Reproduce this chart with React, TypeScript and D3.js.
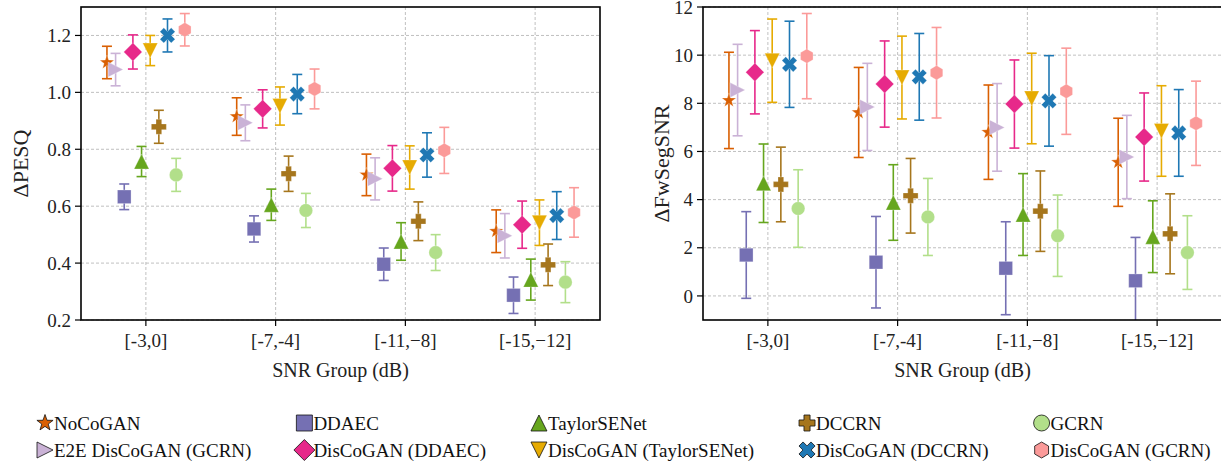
import React, { useEffect, useRef } from 'react';
import * as d3 from 'd3';

const categories = ['[-3,0]', '[-7,-4]', '[-11,\u22128]', '[-15,\u221212]'];

const seriesNames = [
  'NoCoGAN',
  'E2E DisCoGAN (GCRN)',
  'DDAEC',
  'DisCoGAN (DDAEC)',
  'TaylorSENet',
  'DisCoGAN (TaylorSENet)',
  'DCCRN',
  'DisCoGAN (DCCRN)',
  'GCRN',
  'DisCoGAN (GCRN)',
];
const seriesColors = [
  '#d95f02', '#cab2d6', '#7570b3', '#e7298a', '#66a61e',
  '#e6ab02', '#a6761d', '#1f78b4', '#b2df8a', '#fb9a99',
];
const seriesMarkers = [
  'star', 'triangle-right', 'square', 'diamond', 'triangle-up',
  'triangle-down', 'plus', 'x', 'circle', 'hexagon',
];
// legend rows (matplotlib ncol=5 fills column by column)
const legendRows = [[0, 2, 4, 6, 8], [1, 3, 5, 7, 9]];

// ΔPESQ per series, one value per SNR group
const pesqMean = [
  [1.105, 0.915, 0.71, 0.512],
  [1.08, 0.893, 0.696, 0.496],
  [0.633, 0.52, 0.396, 0.287],
  [1.142, 0.942, 0.733, 0.535],
  [0.757, 0.605, 0.476, 0.342],
  [1.147, 0.952, 0.736, 0.542],
  [0.879, 0.714, 0.547, 0.394],
  [1.2, 0.994, 0.78, 0.567],
  [0.71, 0.585, 0.437, 0.333],
  [1.22, 1.012, 0.796, 0.578],
];
const pesqErr = [
  [0.057, 0.066, 0.073, 0.075],
  [0.057, 0.063, 0.074, 0.078],
  [0.045, 0.046, 0.057, 0.064],
  [0.06, 0.067, 0.08, 0.083],
  [0.053, 0.055, 0.066, 0.072],
  [0.053, 0.067, 0.076, 0.08],
  [0.058, 0.062, 0.068, 0.073],
  [0.058, 0.069, 0.078, 0.084],
  [0.058, 0.06, 0.063, 0.072],
  [0.057, 0.07, 0.081, 0.087],
];

// ΔFwSegSNR per series
const fwMean = [
  [8.12, 7.62, 6.8, 5.55],
  [8.55, 7.85, 7.0, 5.77],
  [1.7, 1.4, 1.15, 0.63],
  [9.29, 8.8, 7.97, 6.6],
  [4.68, 3.88, 3.38, 2.46],
  [9.77, 9.07, 8.2, 6.85],
  [4.63, 4.16, 3.52, 2.58],
  [9.62, 9.1, 8.1, 6.77],
  [3.63, 3.28, 2.5, 1.8],
  [9.96, 9.27, 8.5, 7.17],
];
const fwErr = [
  [2.0, 1.87, 1.96, 1.83],
  [1.9, 1.81, 1.82, 1.73],
  [1.8, 1.9, 1.93, 1.8],
  [1.73, 1.79, 1.83, 1.83],
  [1.63, 1.57, 1.7, 1.49],
  [1.73, 1.72, 1.88, 1.88],
  [1.55, 1.55, 1.67, 1.66],
  [1.79, 1.8, 1.88, 1.8],
  [1.61, 1.6, 1.69, 1.53],
  [1.77, 1.88, 1.79, 1.75],
];

const pesqTicks = [0.2, 0.4, 0.6, 0.8, 1.0, 1.2];
const fwTicks = [0, 2, 4, 6, 8, 10, 12];

const FONT = 'Liberation Serif, Times New Roman, serif';

function markerPath(kind: string, r: number): string {
  const poly = (pts: number[][]) =>
    'M' + pts.map(p => p[0].toFixed(2) + ',' + p[1].toFixed(2)).join('L') + 'Z';
  const rot = (pts: number[][], a: number) =>
    pts.map(([x, y]) => [x * Math.cos(a) - y * Math.sin(a), x * Math.sin(a) + y * Math.cos(a)]);
  const plus = (w: number) => [
    [-w, -r], [w, -r], [w, -w], [r, -w], [r, w], [w, w],
    [w, r], [-w, r], [-w, w], [-r, w], [-r, -w], [-w, -w],
  ];
  switch (kind) {
    case 'star':
      return poly(d3.range(10).map(i => {
        const rad = i % 2 ? r * 0.4 : r;
        const a = -Math.PI / 2 + (i * Math.PI) / 5;
        return [rad * Math.cos(a), rad * Math.sin(a)];
      }));
    case 'triangle-up':
      return poly([[0, -r], [r, r], [-r, r]]);
    case 'triangle-down':
      return poly([[0, r], [r, -r], [-r, -r]]);
    case 'triangle-right':
      return poly([[r, 0], [-r, r], [-r, -r]]);
    case 'square':
      return poly([[-r, -r], [r, -r], [r, r], [-r, r]]);
    case 'diamond':
      return poly([[0, -r], [r, 0], [0, r], [-r, 0]]);
    case 'plus':
      return poly(plus(r * 0.38));
    case 'x':
      return poly(rot(plus(r * 0.34), Math.PI / 4));
    case 'hexagon':
      return poly(d3.range(6).map(i => {
        const a = -Math.PI / 2 + (i * Math.PI) / 3;
        return [r * Math.cos(a), r * Math.sin(a)];
      }));
    default:
      return `M${-r},0A${r},${r} 0 1,0 ${r},0A${r},${r} 0 1,0 ${-r},0Z`;
  }
}

const plotSize: Record<string, number> = {
  star: 7.5, 'triangle-right': 7.5, square: 6.8, diamond: 9.2, 'triangle-up': 7.5,
  'triangle-down': 7.5, plus: 7.5, x: 8, circle: 6.8, hexagon: 7.2,
};
const legendSize: Record<string, number> = {
  star: 8.5, 'triangle-right': 8, square: 8, diamond: 10.5, 'triangle-up': 8,
  'triangle-down': 8, plus: 8, x: 8.5, circle: 8, hexagon: 8,
};

function drawPanel(svg: any, cfg: any) {
  const { left, right, top, bottom, domain, ticks, fmt, means, errs, label, labelX, id } = cfg;
  const x = d3.scaleLinear().domain([-0.5, categories.length - 0.5]).range([left, right]);
  const y = d3.scaleLinear().domain(domain).range([bottom, top]);
  const g = svg.append('g');

  svg.append('clipPath').attr('id', id)
    .append('rect').attr('x', left).attr('y', top).attr('width', right - left).attr('height', bottom - top);

  const grid = g.append('g').attr('stroke', '#b0b0b0').attr('stroke-width', 0.8).attr('stroke-dasharray', '3,2');
  ticks.forEach((t: number) => {
    grid.append('line').attr('x1', left).attr('x2', right).attr('y1', y(t)).attr('y2', y(t));
  });
  categories.forEach((_, i) => {
    grid.append('line').attr('x1', x(i)).attr('x2', x(i)).attr('y1', top).attr('y2', bottom);
  });

  const marks = g.append('g').attr('clip-path', `url(#${id})`);
  const n = seriesNames.length;
  seriesNames.forEach((_, s) => {
    const off = -0.3 + (s * 0.6) / (n - 1);
    const color = seriesColors[s];
    const sg = marks.append('g');
    categories.forEach((_, c) => {
      const cx = x(c + off);
      const m = means[s][c];
      const e = errs[s][c];
      const eg = sg.append('g').attr('stroke', color).attr('stroke-width', 1.6);
      eg.append('line').attr('x1', cx).attr('x2', cx).attr('y1', y(m - e)).attr('y2', y(m + e));
      eg.append('line').attr('x1', cx - 5).attr('x2', cx + 5).attr('y1', y(m - e)).attr('y2', y(m - e));
      eg.append('line').attr('x1', cx - 5).attr('x2', cx + 5).attr('y1', y(m + e)).attr('y2', y(m + e));
      sg.append('path')
        .attr('transform', `translate(${cx},${y(m)})`)
        .attr('d', markerPath(seriesMarkers[s], plotSize[seriesMarkers[s]]))
        .attr('fill', color)
        .attr('stroke', '#ffffff')
        .attr('stroke-opacity', 0.35)
        .attr('stroke-width', 0.8);
    });
  });

  // spines
  g.append('rect').attr('x', left).attr('y', top).attr('width', right - left).attr('height', bottom - top)
    .attr('fill', 'none').attr('stroke', '#000').attr('stroke-width', 1.6);

  // y ticks
  ticks.forEach((t: number) => {
    g.append('line').attr('x1', left - 6).attr('x2', left).attr('y1', y(t)).attr('y2', y(t))
      .attr('stroke', '#000').attr('stroke-width', 1.2);
    g.append('text').attr('x', left - 10).attr('y', y(t)).attr('dy', '0.35em')
      .attr('text-anchor', 'end').attr('font-family', FONT).attr('font-size', 19).attr('fill', '#222')
      .text(fmt(t));
  });
  // x ticks
  categories.forEach((c, i) => {
    g.append('line').attr('x1', x(i)).attr('x2', x(i)).attr('y1', bottom).attr('y2', bottom + 6)
      .attr('stroke', '#000').attr('stroke-width', 1.2);
    g.append('text').attr('x', x(i)).attr('y', bottom + 27)
      .attr('text-anchor', 'middle').attr('font-family', FONT).attr('font-size', 19).attr('fill', '#222')
      .text(c);
  });

  g.append('text').attr('x', (left + right) / 2).attr('y', bottom + 57)
    .attr('text-anchor', 'middle').attr('font-family', FONT).attr('font-size', 20).attr('fill', '#222')
    .text('SNR Group (dB)');

  g.append('text')
    .attr('transform', `translate(${labelX},${(top + bottom) / 2}) rotate(-90)`)
    .attr('dy', '0.35em')
    .attr('text-anchor', 'middle').attr('font-family', FONT).attr('font-size', 22).attr('fill', '#222')
    .text(label);
}

export default function App() {
  const ref = useRef<SVGSVGElement | null>(null);

  useEffect(() => {
    const el = ref.current;
    if (!el) return;
    const svg = d3.select(el);
    svg.selectAll('*').remove();

    drawPanel(svg, {
      id: 'clip-pesq', left: 81, right: 600, top: 7, bottom: 320,
      domain: [0.2, 1.3], ticks: pesqTicks, fmt: d3.format('.1f'),
      means: pesqMean, errs: pesqErr, label: '\u0394PESQ', labelX: 20,
    });
    drawPanel(svg, {
      id: 'clip-fw', left: 703, right: 1222, top: 7, bottom: 320,
      domain: [-1, 12], ticks: fwTicks, fmt: d3.format('d'),
      means: fwMean, errs: fwErr, label: '\u0394FwSegSNR', labelX: 661,
    });

    // legend
    const fontSize = 19;
    const ctx = document.createElement('canvas').getContext('2d');
    const measure = (t: string) => {
      if (!ctx) return t.length * 8;
      ctx.font = `${fontSize}px ${FONT}`;
      return ctx.measureText(t).width;
    };
    const lg = svg.append('g');
    let colX = 37;
    const rowY = [423, 450];
    for (let c = 0; c < 5; c++) {
      let maxW = 0;
      legendRows.forEach((row, r) => {
        const s = row[c];
        const kind = seriesMarkers[s];
        lg.append('path')
          .attr('transform', `translate(${colX + 8},${rowY[r]})`)
          .attr('d', markerPath(kind, legendSize[kind]))
          .attr('fill', seriesColors[s])
          .attr('stroke', '#111')
          .attr('stroke-width', 0.8);
        lg.append('text')
          .attr('x', colX + 17).attr('y', rowY[r]).attr('dy', '0.35em')
          .attr('font-family', FONT).attr('font-size', fontSize).attr('fill', '#111')
          .text(seriesNames[s]);
        maxW = Math.max(maxW, measure(seriesNames[s]));
      });
      colX += 17 + maxW + 45;
    }
  }, []);

  return (
    <svg
      ref={ref}
      width={1221}
      height={464}
      style={{ position: 'absolute', left: 0, top: 0, background: '#fff' }}
    />
  );
}
